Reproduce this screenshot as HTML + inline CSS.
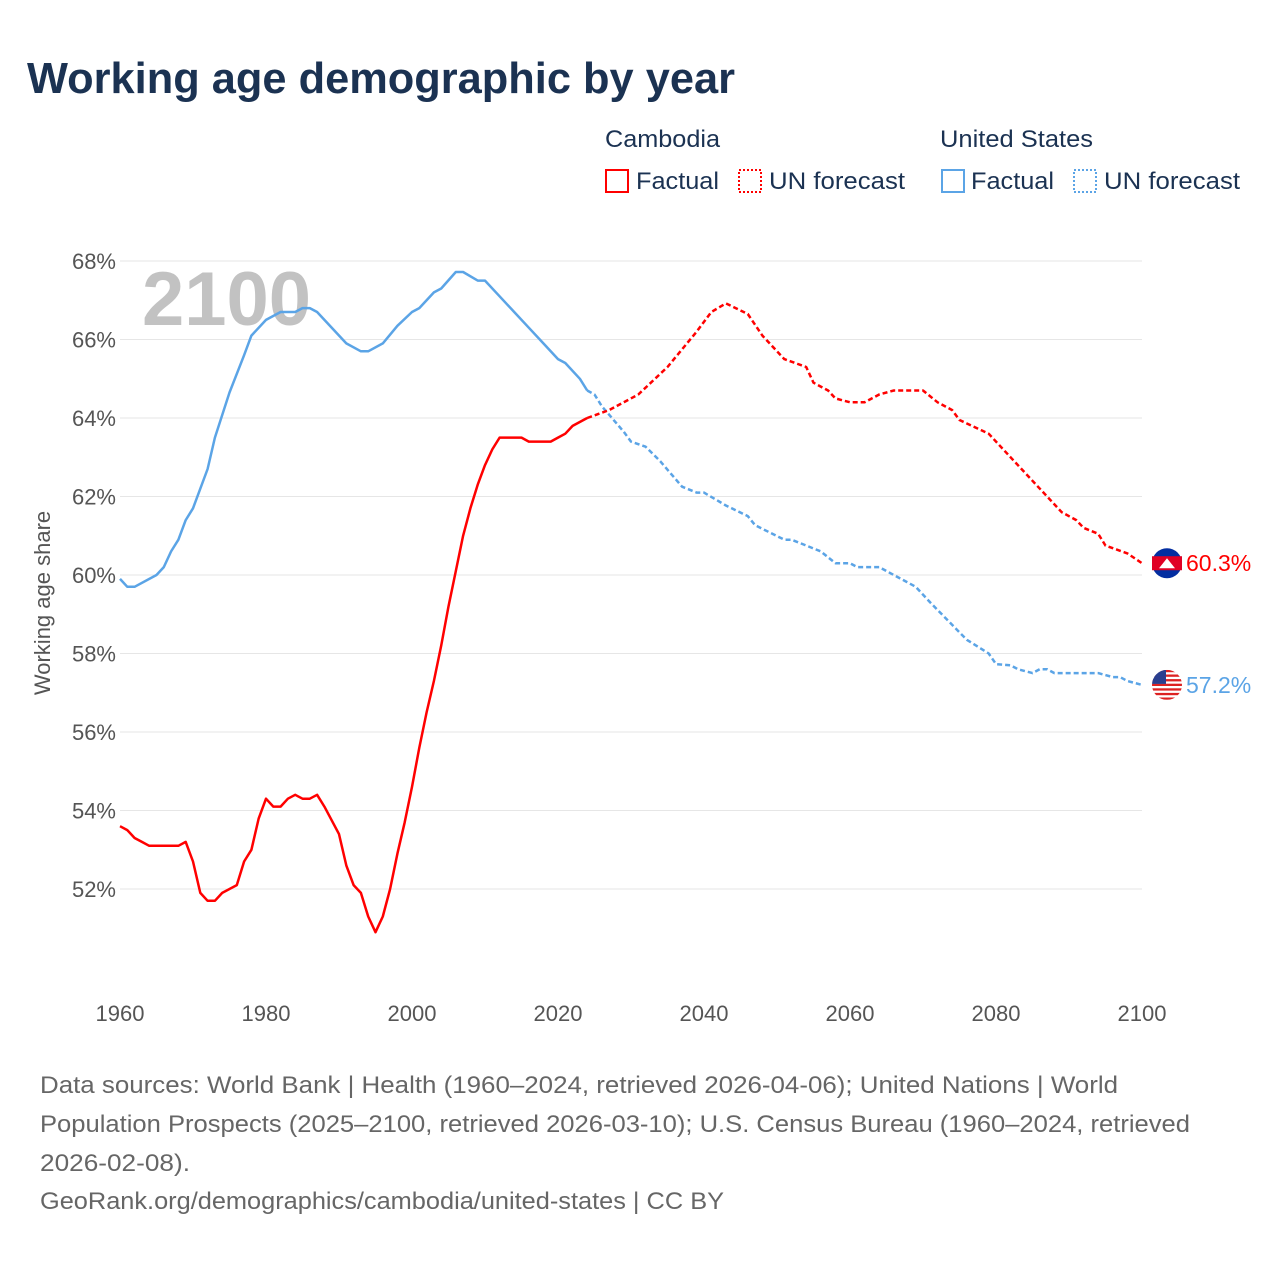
<!DOCTYPE html>
<html><head><meta charset="utf-8"><style>
body{margin:0;background:#fff;font-family:"Liberation Sans",sans-serif;}
#wrap{position:relative;width:1280px;height:1280px;overflow:hidden;background:#fff}
</style></head><body>
<div id="wrap">
<svg id="chart" width="1280" height="1280" xmlns="http://www.w3.org/2000/svg">
<text x="27" y="93" font-size="44" font-weight="bold" fill="#1b3252" textLength="708" lengthAdjust="spacingAndGlyphs">Working age demographic by year</text>
<g font-size="24" fill="#1b3252">
<text x="605" y="147" textLength="115" lengthAdjust="spacingAndGlyphs">Cambodia</text>
<text x="940" y="147" textLength="153" lengthAdjust="spacingAndGlyphs">United States</text>
<g><rect x="606" y="170" width="22" height="22" fill="none" stroke="#ff0000" stroke-width="2"/><text x="636" y="189" textLength="83" lengthAdjust="spacingAndGlyphs">Factual</text></g>
<g><rect x="739" y="170" width="22" height="22" fill="none" stroke="#ff0000" stroke-width="2" stroke-dasharray="2,2"/><text x="769" y="189" textLength="136" lengthAdjust="spacingAndGlyphs">UN forecast</text></g>
<g><rect x="942" y="170" width="22" height="22" fill="none" stroke="#5ba4e6" stroke-width="2"/><text x="971" y="189" textLength="83" lengthAdjust="spacingAndGlyphs">Factual</text></g>
<g><rect x="1074" y="170" width="22" height="22" fill="none" stroke="#5ba4e6" stroke-width="2" stroke-dasharray="2,2"/><text x="1104" y="189" textLength="136" lengthAdjust="spacingAndGlyphs">UN forecast</text></g>
</g>
<g id="grid"></g>
<text x="142" y="325" font-size="76" font-weight="bold" fill="#c2c2c2">2100</text>
<g id="yticks" font-size="22" fill="#555" text-anchor="end"></g>
<g id="xticks" font-size="22" fill="#555" text-anchor="middle"></g>
<text transform="translate(50,603) rotate(-90)" font-size="22" fill="#555" text-anchor="middle">Working age share</text>
<g id="series"></g>
<g font-size="24" fill="#666">
<text x="40" y="1093" textLength="1078" lengthAdjust="spacingAndGlyphs">Data sources: World Bank | Health (1960–2024, retrieved 2026-04-06); United Nations | World</text>
<text x="40" y="1132" textLength="1150" lengthAdjust="spacingAndGlyphs">Population Prospects (2025–2100, retrieved 2026-03-10); U.S. Census Bureau (1960–2024, retrieved</text>
<text x="40" y="1171" textLength="150" lengthAdjust="spacingAndGlyphs">2026-02-08).</text>
<text x="40" y="1209" textLength="684" lengthAdjust="spacingAndGlyphs">GeoRank.org/demographics/cambodia/united-states | CC BY</text>
</g>
</svg>
</div>
<script>
const yTicks=[52,54,56,58,60,62,64,66,68];
const xTicks=[1960,1980,2000,2020,2040,2060,2080,2100];
const khYears=[1960,1961,1962,1963,1964,1966,1968,1969,1970,1971,1972,1973,1974,1976,1977,1978,1979,1980,1981,1982,1983,1984,1985,1986,1987,1988,1990,1991,1992,1993,1994,1995,1996,1997,1998,1999,2000,2001,2002,2003,2004,2005,2006,2007,2008,2009,2010,2011,2012,2015,2016,2019,2020,2021,2022,2024];
const khValues=[53.6,53.5,53.3,53.2,53.1,53.1,53.1,53.2,52.7,51.9,51.7,51.7,51.9,52.1,52.7,53.0,53.8,54.3,54.1,54.1,54.3,54.4,54.3,54.3,54.4,54.1,53.4,52.6,52.1,51.9,51.3,50.9,51.3,52.0,52.9,53.7,54.6,55.6,56.5,57.3,58.2,59.2,60.1,61.0,61.7,62.3,62.8,63.2,63.5,63.5,63.4,63.4,63.5,63.6,63.8,64.0];
const khFcYears=[2024,2027,2031,2035,2039,2041,2043,2046,2048,2051,2054,2055,2057,2058,2060,2062,2064,2066,2070,2072,2074,2075,2079,2082,2085,2087,2089,2091,2092,2094,2095,2098,2100];
const khFcValues=[64.0,64.2,64.6,65.3,66.2,66.7,66.92,66.65,66.1,65.5,65.3,64.9,64.7,64.5,64.4,64.4,64.6,64.7,64.7,64.4,64.2,63.95,63.6,63.0,62.4,62.0,61.6,61.4,61.2,61.05,60.75,60.55,60.3];
const usYears=[1960,1961,1962,1965,1966,1967,1968,1969,1970,1972,1973,1975,1977,1978,1980,1982,1984,1985,1986,1987,1991,1993,1994,1996,1998,2000,2001,2003,2004,2006,2007,2009,2010,2012,2014,2016,2018,2020,2021,2023,2024];
const usValues=[59.9,59.7,59.7,60.0,60.2,60.6,60.9,61.4,61.7,62.7,63.5,64.65,65.6,66.1,66.5,66.7,66.7,66.8,66.8,66.7,65.9,65.7,65.7,65.9,66.35,66.7,66.8,67.2,67.3,67.72,67.72,67.5,67.5,67.1,66.7,66.3,65.9,65.5,65.4,65.0,64.7];
const usFcYears=[2024,2025,2026,2029,2030,2032,2034,2037,2039,2040,2043,2046,2047,2051,2052,2056,2058,2060,2061,2064,2066,2069,2071,2076,2079,2080,2082,2083,2085,2086,2087,2088,2094,2096,2097,2098,2100];
const usFcValues=[64.7,64.6,64.3,63.65,63.4,63.27,62.9,62.25,62.1,62.1,61.77,61.5,61.27,60.9,60.9,60.6,60.3,60.3,60.2,60.2,60.0,59.7,59.3,58.35,58.0,57.73,57.7,57.6,57.5,57.6,57.6,57.5,57.5,57.4,57.4,57.3,57.2];
const NS='http://www.w3.org/2000/svg';
const X0=120,X1=1142,Y0=261,Y1=889;
function xs(y){return X0+(y-1960)*(X1-X0)/140;}
function ys(v){return Y0+(68-v)*(Y1-Y0)/16;}
const grid=document.getElementById('grid'),yt=document.getElementById('yticks'),xt=document.getElementById('xticks'),ser=document.getElementById('series');
yTicks.forEach(t=>{
 const l=document.createElementNS(NS,'line');
 l.setAttribute('x1',120);l.setAttribute('x2',1142);l.setAttribute('y1',ys(t));l.setAttribute('y2',ys(t));
 l.setAttribute('stroke','#e6e6e6');l.setAttribute('stroke-width','1');
 
 
 grid.appendChild(l);
 const tx=document.createElementNS(NS,'text');
 tx.setAttribute('x',116);tx.setAttribute('y',ys(t)+8);tx.textContent=t+'%';
 
 
 yt.appendChild(tx);
});
xTicks.forEach(t=>{
 const tx=document.createElementNS(NS,'text');
 tx.setAttribute('x',xs(t));tx.setAttribute('y',1021);tx.textContent=t;
 
 
 xt.appendChild(tx);
});
function line(yrs,vals,color,dash,name){
 const p=document.createElementNS(NS,'polyline');
 p.setAttribute('points',yrs.map((y,i)=>xs(y).toFixed(1)+','+ys(vals[i]).toFixed(1)).join(' '));
 p.setAttribute('fill','none');p.setAttribute('stroke',color);p.setAttribute('stroke-width','2.5');
 p.setAttribute('stroke-linejoin','round');
 if(dash)p.setAttribute('stroke-dasharray','5,3');
 
 
 ser.appendChild(p);
}
line(usYears,usValues,'#5ba4e6',false,'us-factual-line');
line(usFcYears,usFcValues,'#5ba4e6',true,'us-forecast-line');
line(khYears,khValues,'#ff0000',false,'cambodia-factual-line');
line(khFcYears,khFcValues,'#ff0000',true,'cambodia-forecast-line');
function endLabel(v,color,flag,name){
 const cy=ys(v);
 const g=document.createElementNS(NS,'g');
 
 
 if(flag==='kh'){
  g.innerHTML='<circle cx="1167" cy="'+cy+'" r="15" fill="#032ea1"/><rect x="1152" y="'+(cy-7)+'" width="30" height="14" fill="#e00025"/><path d="M1159 '+(cy+5)+' L1167 '+(cy-5)+' L1175 '+(cy+5)+' Z" fill="#fff"/>';
 }else{
  let s='<clipPath id="uc"><circle cx="1167" cy="'+cy+'" r="15"/></clipPath><g clip-path="url(#uc)"><rect x="1152" y="'+(cy-15)+'" width="30" height="30" fill="#fff"/>';
  for(let i=0;i<7;i++)s+='<rect x="1152" y="'+(cy-15+i*4.6)+'" width="30" height="2.3" fill="#d22"/>';
  s+='<rect x="1152" y="'+(cy-15)+'" width="14" height="14" fill="#2a3f8f"/></g>';
  g.innerHTML=s;
 }
 const t=document.createElementNS(NS,'text');
 t.setAttribute('x',1186);t.setAttribute('y',cy+8);t.setAttribute('font-size','23');t.setAttribute('fill',color);
 t.textContent=v.toFixed(1)+'%';
 g.appendChild(t);
 ser.appendChild(g);
}
endLabel(khFcValues[khFcValues.length-1],'#ff0000','kh','cambodia-end-label');
endLabel(usFcValues[usFcValues.length-1],'#5ba4e6','us','us-end-label');
</script>
</body></html>
